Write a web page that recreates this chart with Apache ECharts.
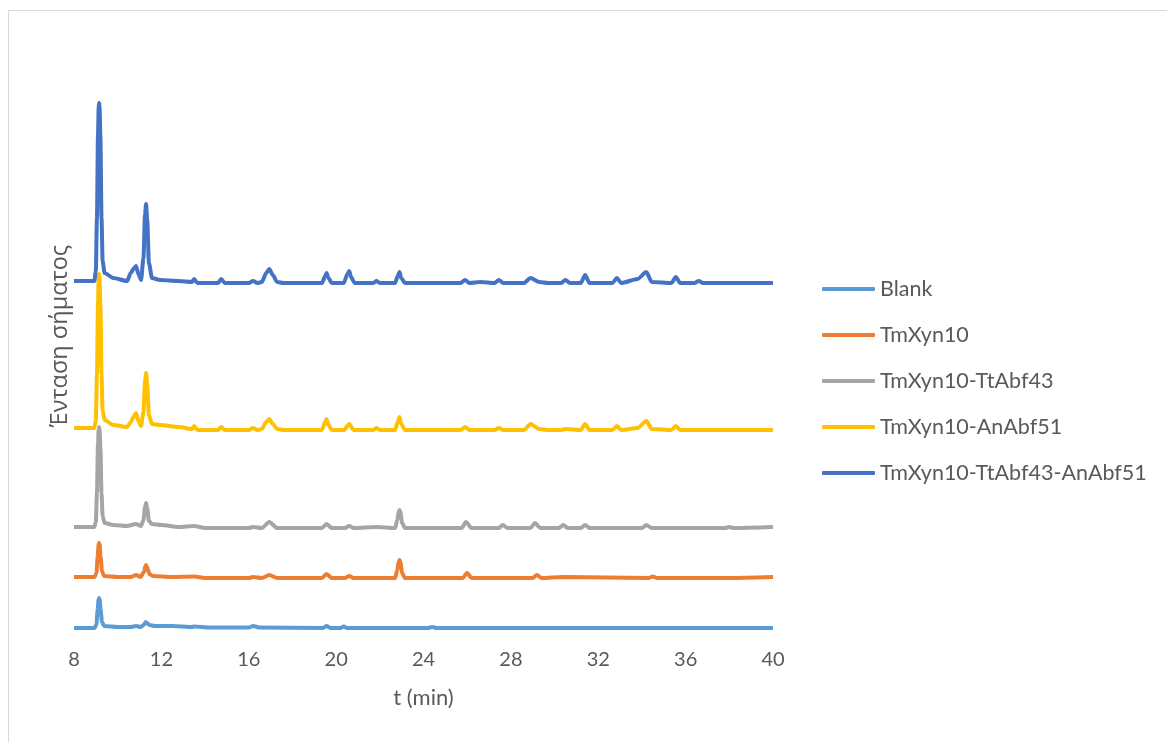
<!DOCTYPE html>
<html>
<head>
<meta charset="utf-8">
<title>Χρωματογραφήματα</title>
<script src="https://cdn.jsdelivr.net/npm/echarts@6/dist/echarts.min.js"></script>
<style>
  html, body { margin: 0; padding: 0; background: #fff; }
  #chart1 { width: 1167px; height: 742px; }
</style>
</head>
<body>
<div id="chart1"></div>
<script>
// series names (legend order)
const seriesNames = ['Blank', 'TmXyn10', 'TmXyn10-TtAbf43', 'TmXyn10-AnAbf51', 'TmXyn10-TtAbf43-AnAbf51'];
const seriesColors = ['#5B9BD5', '#ED7D31', '#A5A5A5', '#FFC000', '#4472C4'];

// vertical offset of each trace (stacked chromatograms)
const offsets = [12, 62, 112, 210, 357];

// [t (min), signal above own baseline]
const blank = [
  [8, 0], [8.95, 0], [9.03, 4], [9.08, 18], [9.13, 29], [9.15, 30], [9.17, 29], [9.22, 18], [9.28, 6],
  [9.38, 2], [10.0, 1], [10.6, 1], [10.84, 2], [11.05, 1], [11.2, 3], [11.28, 6], [11.3, 6.5], [11.34, 5],
  [11.45, 3], [11.7, 2], [12.5, 2], [13.4, 1], [13.5, 1.5], [14.2, 0.5], [16.0, 0.5], [16.2, 2], [16.5, 0.5],
  [19.4, 0], [19.56, 2], [19.75, 0], [20.2, 0], [20.35, 1.5], [20.5, 0], [24.2, 0], [24.4, 1], [24.6, 0],
  [40, 0]
];
const tmxyn10 = [
  [8, 1], [8.95, 1], [9.03, 5], [9.08, 21], [9.13, 34], [9.15, 35], [9.17, 34], [9.22, 21], [9.28, 7],
  [9.38, 2], [10.0, 1], [10.6, 1], [10.84, 3], [11.05, 1], [11.2, 6], [11.27, 12], [11.3, 13], [11.34, 11],
  [11.45, 4], [11.6, 2], [12.5, 1], [13.5, 1.5], [14.0, 0], [16.0, 0], [16.2, 1], [16.6, 0], [16.94, 3],
  [17.3, 0], [19.35, 0], [19.56, 4], [19.8, 0], [20.4, 0], [20.6, 2], [20.8, 0], [22.7, 0], [22.8, 8],
  [22.87, 17], [22.9, 18], [22.94, 16], [23.02, 5], [23.15, 0], [25.8, 0], [25.99, 5], [26.2, 0], [29.0, 0],
  [29.19, 3], [29.4, 0], [30.4, 1], [34.3, 0], [34.5, 1.5], [34.7, 0], [38, 0], [40, 1]
];
const tmxyn10TtAbf43 = [
  [8, 1], [8.93, 1], [9.0, 6], [9.05, 35], [9.1, 85], [9.13, 99], [9.15, 101], [9.17, 99], [9.21, 80],
  [9.26, 35], [9.31, 12], [9.4, 5], [9.8, 3], [10.43, 2], [10.84, 4], [11.07, 2], [11.18, 8], [11.25, 21],
  [11.3, 25], [11.35, 20], [11.43, 7], [11.57, 4], [12.0, 3], [12.8, 1], [13.5, 2], [14.0, 0], [16.0, 0],
  [16.2, 1], [16.6, 0], [16.94, 6], [17.3, 0], [19.35, 0], [19.56, 4], [19.8, 0], [20.4, 0], [20.6, 2],
  [20.8, 0], [21.85, 1], [22.7, 0], [22.8, 8], [22.87, 17], [22.9, 18], [22.94, 16], [23.02, 5],
  [23.15, 0], [25.75, 0], [25.94, 6], [26.2, 0], [27.45, 0], [27.63, 3], [27.85, 0], [28.9, 0], [29.1, 5],
  [29.35, 0], [30.2, 0], [30.4, 3], [30.6, 0], [31.2, 0], [31.4, 3], [31.6, 0], [34.0, 0], [34.2, 3],
  [34.45, 0], [37.8, 0], [38.0, 1], [38.2, 0], [40, 1]
];
const tmxyn10AnAbf51 = [
  [8, 2], [8.93, 2], [9.0, 10], [9.05, 55], [9.1, 130], [9.13, 152], [9.15, 156], [9.17, 152], [9.21, 125],
  [9.26, 55], [9.31, 20], [9.4, 10], [9.8, 5], [10.43, 3], [10.6, 8], [10.75, 14], [10.84, 17], [10.95, 9],
  [11.07, 4], [11.18, 18], [11.25, 48], [11.3, 57], [11.35, 46], [11.43, 15], [11.57, 6], [11.94, 5],
  [12.8, 3], [13.4, 1], [13.5, 4], [13.65, 0], [14.6, 0], [14.74, 3], [14.9, 0], [16.0, 0], [16.2, 2],
  [16.4, 0], [16.6, 1], [16.8, 8], [16.94, 11], [17.1, 6], [17.3, 1], [17.6, 0], [19.35, 0], [19.5, 8],
  [19.56, 11], [19.65, 5], [19.8, 0], [20.35, 0], [20.6, 6], [20.8, 0], [21.7, 0], [21.85, 2], [22.0, 0],
  [22.7, 0], [22.82, 8], [22.9, 13], [22.98, 6], [23.15, 0], [25.7, 0], [25.9, 3], [26.1, 0], [27.25, 0],
  [27.45, 2], [27.65, 0], [28.6, 0], [28.9, 6], [29.3, 1], [29.7, 0], [30.3, 0], [30.5, 1], [31.2, 0],
  [31.4, 6], [31.6, 0], [32.65, 0], [32.85, 4], [33.05, 0], [33.8, 2], [34.2, 9], [34.45, 1], [35.35, 0],
  [35.55, 4], [35.75, 0], [40, 0]
];
const tmxyn10TtAbf43AnAbf51 = [
  [8, 2], [8.93, 2], [9.0, 12], [9.05, 65], [9.1, 150], [9.13, 176], [9.15, 180], [9.17, 176], [9.21, 145],
  [9.26, 65], [9.31, 22], [9.4, 10], [9.8, 5], [10.43, 2], [10.6, 10], [10.75, 15], [10.84, 17], [10.95, 9],
  [11.07, 3], [11.18, 25], [11.25, 68], [11.3, 79], [11.35, 64], [11.43, 20], [11.57, 5], [11.94, 3],
  [12.8, 2], [13.4, 1], [13.5, 4], [13.65, 0], [14.6, 0], [14.74, 4], [14.9, 0], [16.0, 0], [16.2, 2],
  [16.4, 0], [16.6, 1], [16.8, 10], [16.94, 14], [17.1, 8], [17.3, 1], [17.6, 0], [19.35, 0], [19.5, 7],
  [19.56, 10], [19.65, 5], [19.8, 0], [20.35, 0], [20.52, 9], [20.6, 12], [20.68, 6], [20.85, 0], [21.7, 0],
  [21.85, 2], [22.0, 0], [22.7, 0], [22.82, 7], [22.9, 11], [22.98, 5], [23.15, 0], [25.7, 0], [25.9, 3],
  [26.1, 0], [26.6, 1], [27.25, 0], [27.45, 3], [27.65, 0], [28.6, 0], [28.9, 5], [29.3, 1], [29.7, 0],
  [30.3, 0], [30.5, 3], [30.7, 0], [31.2, 0], [31.4, 8], [31.6, 0], [32.65, 0], [32.85, 5], [33.05, 0],
  [33.8, 4], [34.2, 11], [34.45, 1], [35.35, 0], [35.55, 6], [35.75, 0], [36.4, 0], [36.6, 2], [36.8, 0],
  [40, 0]
];
const traces = [blank, tmxyn10, tmxyn10TtAbf43, tmxyn10AnAbf51, tmxyn10TtAbf43AnAbf51];

// x axis
const xMin = 8;
const xMax = 40;
const xStep = 4;

const font = 'Lato, "Liberation Sans", sans-serif';
const greekFont = '"Open Sans", "Noto Sans", sans-serif';
const textColor = '#595959';

const getOptionChart1 = () => {
  return {
    animation: false,
    backgroundColor: '#fff',
    graphic: [{
      type: 'rect',
      shape: { x: 8.5, y: 10.5, width: 1200, height: 800 },
      style: { fill: 'none', stroke: '#d9d9d9', lineWidth: 1 }
    }],
    grid: { left: 74, right: 394, top: 32, bottom: 102 },
    legend: {
      orient: 'vertical',
      left: 822,
      top: 278,
      padding: 0,
      itemWidth: 53,
      itemHeight: 4,
      itemGap: 24,
      icon: 'roundRect',
      data: seriesNames,
      textStyle: { fontFamily: font, fontSize: 21.5, color: textColor, lineHeight: 21 }
    },
    xAxis: {
      type: 'value',
      min: xMin,
      max: xMax,
      interval: xStep,
      name: 't (min)',
      nameLocation: 'middle',
      nameGap: 47,
      nameTextStyle: { fontFamily: font, fontSize: 22, color: textColor },
      axisLine: { show: false },
      axisTick: { show: false },
      splitLine: { show: false },
      axisLabel: { fontFamily: font, fontSize: 20, color: textColor, margin: 10 }
    },
    yAxis: {
      type: 'value',
      min: 0,
      max: 608,
      name: 'Ένταση σήματος',
      nameLocation: 'middle',
      nameGap: 2,
      nameTextStyle: { fontFamily: greekFont, fontSize: 23.5, color: textColor },
      axisLine: { show: false },
      axisTick: { show: false },
      axisLabel: { show: false },
      splitLine: { show: false }
    },
    series: seriesNames.map((name, i) => ({
      name: name,
      type: 'line',
      symbol: 'none',
      smooth: 0.25,
      smoothMonotone: 'x',
      color: seriesColors[i],
      lineStyle: { width: 4, color: seriesColors[i] },
      data: traces[i].map(([t, v]) => [t, v + offsets[i]])
    }))
  };
};

const initChart = () => {
  const chart1 = echarts.init(document.getElementById('chart1'));
  chart1.setOption(getOptionChart1());
};

window.addEventListener('load', function() {
  initChart();
});
</script>
</body>
</html>
